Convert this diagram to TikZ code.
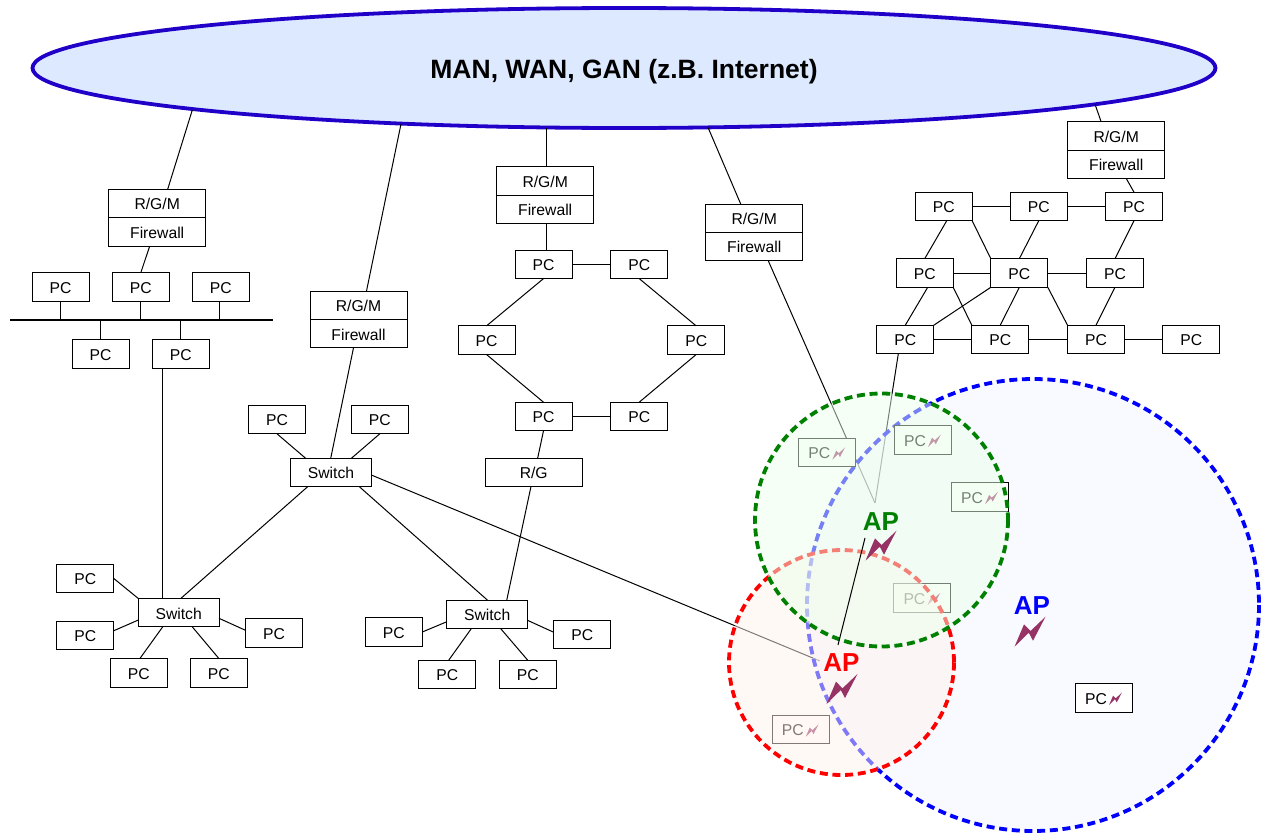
\documentclass[tikz,border=0pt]{standalone}
\usepackage{fontspec}
\setmainfont{Liberation Sans}
\usetikzlibrary{shapes.geometric}
\definecolor{boltc}{RGB}{150,50,100}
\definecolor{manfill}{RGB}{220,233,255}
\definecolor{manline}{RGB}{32,0,200}
\definecolor{vgreen}{RGB}{235,255,235}
\definecolor{vred}{RGB}{255,243,236}
\definecolor{vblue}{RGB}{241,245,255}
\definecolor{dgreen}{RGB}{0,128,0}
\tikzset{
  x=1pt,y=-1pt,
  every node/.style={inner sep=0pt,outer sep=0pt},
  box/.style={draw=black,line width=0.9pt,fill=white,font=\fontsize{15.7}{16}\selectfont,align=center,text height=12.8pt,text depth=0pt},
  pc/.style={box,minimum width=57pt,minimum height=28.6pt},
  sw/.style={box,minimum width=80.6pt,minimum height=28.3pt},
  wide/.style={box,minimum width=97pt,minimum height=28.4pt},
  wire/.style={draw=black,line width=1pt},
  aplabel/.style={font=\bfseries\fontsize{26}{26}\selectfont},
  cell/.style={line width=3.8pt,dash pattern=on 8pt off 4.7pt,fill opacity=.5},
  bolt/.pic={\fill[boltc] (-15.5,15)--(-6,-7.3)--(0.5,-0.7)--(15.5,-15)--(3,9)--(-1.2,1)--cycle;}
}
\begin{document}
\begin{tikzpicture}
\useasboundingbox (0,0) rectangle (1261,835);
% backbone
\node[ellipse,draw=manline,line width=3.8pt,fill=manfill,minimum width=1183pt,minimum height=120pt] (man) at (624,68) {};
\node[font=\bfseries\fontsize{26.5}{27}\selectfont] (title) at (624,72) {MAN, WAN, GAN (z.B. Internet)};
% left bus group
\node[wide] (rgmA) at (157.2,203.4) {R/G/M};
\node[wide] (fwA) at (157.2,231.9) {Firewall};
\node[pc] (a1) at (60.5,287) {PC};
\node[pc] (a2) at (140.8,287) {PC};
\node[pc] (a3) at (220.8,287) {PC};
\node[pc] (a4) at (100.5,353.8) {PC};
\node[pc] (a5) at (180.8,353.8) {PC};
\coordinate (busL) at (10,320.3);
\coordinate (busR) at (272.7,320.3);
\draw[line width=1.8pt] (busL) -- (busR);
\draw[wire] ([shift={(-431.7,42)}]man.center) -- ([xshift=10.5pt]rgmA.north);
\draw[wire] ([xshift=-7.5pt]fwA.south) -- (a2.north);
\draw[wire] (a1.south) -- (a1.south |- busL);
\draw[wire] (a2.south) -- (a2.south |- busL);
\draw[wire] ([xshift=-1.5pt]a3.south) -- ([xshift=-1.5pt]a3.south |- busL);
\draw[wire] (a4.north) -- (a4.north |- busL);
\draw[wire] (a5.north) -- (a5.north |- busL);
% switches
\node[sw] (sw1) at (178.7,612.7) {Switch};
\node[sw] (sw2) at (331,472.5) {Switch};
\node[sw] (sw3) at (487.2,614.5) {Switch};
\draw[wire] ([xshift=-18.1pt]a5.south) -- ([xshift=-16pt]sw1.north);
\node[wide] (rgmB) at (358.5,305.2) {R/G/M};
\node[wide] (fwB) at (358.5,333.6) {Firewall};
\draw[wire] ([shift={(-223,56)}]man.center) -- ([xshift=8pt]rgmB.north);
\draw[wire] ([xshift=-5pt]fwB.south) -- ([xshift=-.3pt]sw2.north);
\node[pc] (b1) at (277,419.5) {PC};
\node[pc] (b2) at (379.8,419.5) {PC};
\draw[wire] (b1.south) -- ([xshift=-25.3pt]sw2.north);
\draw[wire] (b2.south) -- ([xshift=20.3pt]sw2.north);
\draw[wire] ([xshift=-23.3pt]sw2.south) -- ([xshift=2pt]sw1.north);
\draw[wire] ([xshift=28.3pt]sw2.south) -- ([xshift=.5pt]sw3.north);
\node[pc] (c1) at (85.3,578.5) {PC};
\node[pc] (c2) at (85.3,635.3) {PC};
\node[pc] (c3) at (274,632.7) {PC};
\node[pc] (c4) at (138.8,672.7) {PC};
\node[pc] (c5) at (218.8,672.7) {PC};
\draw[wire] (c1.east) -- (sw1.north west);
\draw[wire] ([yshift=4.6pt]c2.east) -- ([yshift=-7.3pt]sw1.west);
\draw[wire] ([yshift=2.4pt]c3.west) -- ([yshift=-5.6pt]sw1.east);
\draw[wire] ([xshift=1.2pt]c4.north) -- ([xshift=-16pt]sw1.south);
\draw[wire] (c5.north) -- ([xshift=13.6pt]sw1.south);
\node[pc] (d1) at (393.8,632) {PC};
\node[pc] (d2) at (582.3,634.5) {PC};
\node[pc] (d3) at (447.3,674.5) {PC};
\node[pc] (d4) at (527.7,674.5) {PC};
\draw[wire] (d1.east) -- ([yshift=-7.2pt]sw3.west);
\draw[wire] ([yshift=2.2pt]d2.west) -- ([yshift=-5.8pt]sw3.east);
\draw[wire] ([xshift=1.4pt]d3.north) -- ([xshift=-15.9pt]sw3.south);
\draw[wire] (d4.north) -- ([xshift=13.5pt]sw3.south);
% ring
\node[wide] (rgmC) at (545.2,180.8) {R/G/M};
\node[wide] (fwC) at (545.2,209.2) {Firewall};
\draw[wire] ([shift={(-78,59.5)}]man.center) -- ([xshift=.8pt]rgmC.north);
\node[pc] (r1) at (543.5,264.3) {PC};
\node[pc] (r2) at (639.2,264.3) {PC};
\node[pc] (r3) at (486.5,340.2) {PC};
\node[pc] (r4) at (696.2,340.2) {PC};
\node[pc] (r5) at (543.5,416.5) {PC};
\node[pc] (r6) at (639.2,416.5) {PC};
\node[wide,minimum height=28.4pt] (rg) at (533.7,472.2) {R/G};
\draw[wire] ([xshift=.8pt]fwC.south) -- ([xshift=2.5pt]r1.north);
\draw[wire] (r1) -- (r2);
\draw[wire] (r5) -- (r6);
\draw[wire] (r1.south) -- (r3.north);
\draw[wire] (r2.south) -- (r4.north);
\draw[wire] (r3.south) -- (r5.north);
\draw[wire] (r4.south) -- (r6.north);
\draw[wire] (r5.south) -- ([xshift=4pt]rg.north);
\draw[wire] ([xshift=-2.7pt]rg.south) -- ([xshift=19.5pt]sw3.north);
% mesh
\node[wide] (rgmD) at (1116.2,136.1) {R/G/M};
\node[wide] (fwD) at (1116.2,164.2) {Firewall};
\node[pc] (m11) at (943.7,206.5) {PC};
\node[pc] (m12) at (1038.7,206.5) {PC};
\node[pc] (m13) at (1134,206.5) {PC};
\node[pc] (m21) at (924.7,273) {PC};
\node[pc] (m22) at (1019.3,273) {PC};
\node[pc] (m23) at (1115,273) {PC};
\node[pc] (m31) at (905.3,339.5) {PC};
\node[pc] (m32) at (1000.3,339.5) {PC};
\node[pc] (m33) at (1096,339.5) {PC};
\node[pc] (m34) at (1191.3,339.5) {PC};
\draw[wire] ([shift={(471,36.3)}]man.center) -- ([xshift=-15pt]rgmD.north);
\draw[wire] ([xshift=10pt]fwD.south) -- (m13.north);
\draw[wire] (m11) -- (m12);
\draw[wire] (m12) -- (m13);
\draw[wire] (m21) -- (m22);
\draw[wire] (m22) -- (m23);
\draw[wire] (m31) -- (m32);
\draw[wire] (m32) -- (m33);
\draw[wire] (m33) -- (m34);
\draw[wire] ([xshift=3pt]m11.south) -- (m21.north);
\draw[wire] (m11.south east) -- (m22.north west);
\draw[wire] (m12.south) -- (m22.north);
\draw[wire] (m13.south) -- (m23.north);
\draw[wire] ([xshift=3pt]m21.south) -- (m31.north);
\draw[wire] (m21.south east) -- (m32.north west);
\draw[wire] (m22.south west) -- (m31.north east);
\draw[wire] (m22.south) -- (m32.north);
\draw[wire] (m22.south east) -- (m33.north west);
\draw[wire] (m23.south) -- (m33.north);
% uplink router of the access points
\node[wide] (rgmE) at (754.2,218.2) {R/G/M};
\node[wide] (fwE) at (754.2,246.4) {Firewall};
\draw[wire] ([shift={(84,59.4)}]man.center) -- ([xshift=-13.5pt]rgmE.north);
% wireless links (under the cells)
\coordinate (endG) at (875,503);
\coordinate (endR) at (820,661);
\draw[wire] ([xshift=14pt]fwE.south) -- (endG);
\draw[wire] ([xshift=-7pt]m31.south) -- (endG);
\draw[wire] ([yshift=-2.5pt]sw2.east) -- (endR);
% cells and wireless stations
\draw[cell,draw=blue,fill=vblue] (1033,605) circle[radius=226];
\foreach \n/\x/\y in {w1/827.2/452.5,w2/923/439.7,w3/980/497,w4/922.4/598,w5/800.7/729.5,w6/1104/697.7}{
  \node[pc] (\n) at (\x,\y) {PC\hspace{16pt}};
  \pic[scale=.41] at ([shift={(11.5,1)}]\n.center) {bolt};
}
\draw[cell,draw=red,fill=vred] (841.5,662.5) circle[radius=112.5];
\draw[cell,draw=dgreen,fill=vgreen] (881.5,520) circle[radius=126.5];
% access points
\node[aplabel,text=dgreen] (apG) at (881,522) {AP};
\node[aplabel,text=blue] (apB) at (1032,606) {AP};
\node[aplabel,text=red] (apR) at (841.5,663) {AP};
\pic at (881,545.7) {bolt};
\pic at (1030,631.7) {bolt};
\pic at (842,689) {bolt};
\coordinate (apGlow) at (865,538);
\coordinate (apRhigh) at (838,645);
\draw[wire] (apGlow) -- (apRhigh);
\end{tikzpicture}
\end{document}
